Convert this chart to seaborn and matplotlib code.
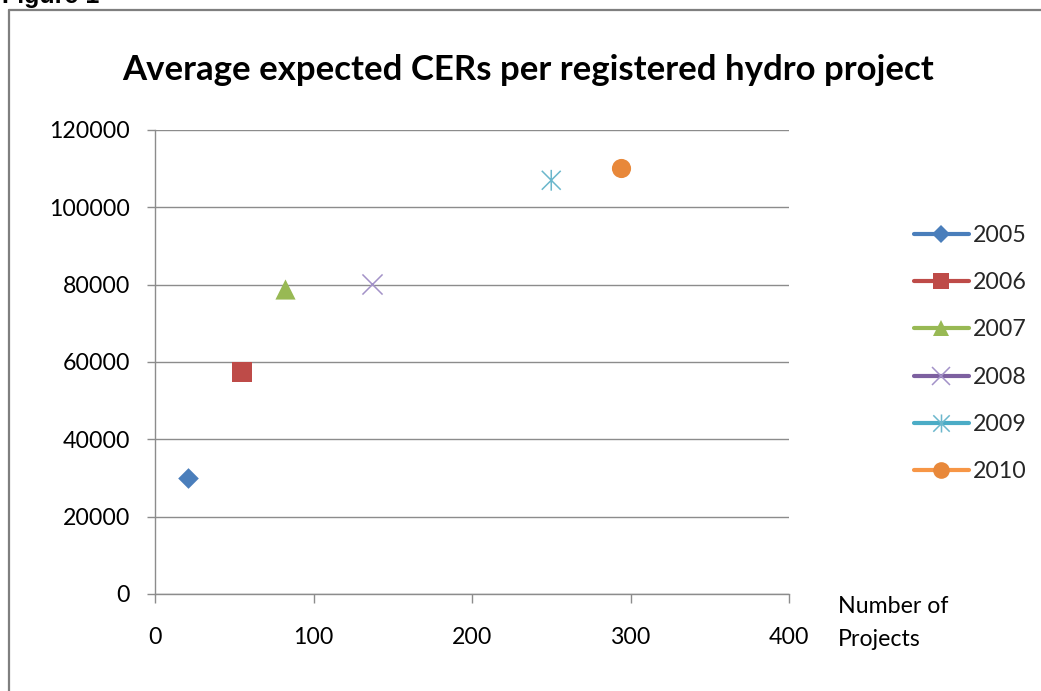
import matplotlib
matplotlib.use("Agg")
import matplotlib.pyplot as plt
from matplotlib.lines import Line2D
from matplotlib.path import Path
import seaborn as sns

# Series: one registration year per point
years = ["2005", "2006", "2007", "2008", "2009", "2010"]
num_projects = [21, 55, 82, 137, 250, 294]
avg_cers = [30000, 57500, 78800, 80300, 107000, 110300]

x_ticks = [0, 100, 200, 300, 400]
y_ticks = [0, 20000, 40000, 60000, 80000, 100000, 120000]

title = "Average expected CERs per registered hydro project"
x_label = "Number of\nProjects"

# Office-style palette
line_colors = ["#4A7EBB", "#BE4B48", "#98B954", "#7D60A0", "#4BACC6", "#F79646"]
mark_colors = ["#4A7EBB", "#BE4B48", "#98B954", "#A392C8", "#6BB7CC", "#E8883A"]

# Asterisk marker: two diagonals and a vertical stroke
asterisk = Path(
    [(-0.5, -0.5), (0.5, 0.5), (-0.5, 0.5), (0.5, -0.5), (0, -0.55), (0, 0.55)],
    [Path.MOVETO, Path.LINETO, Path.MOVETO, Path.LINETO, Path.MOVETO, Path.LINETO],
)
markers = ["D", "s", "^", "x", asterisk, "o"]
sizes_pt = [10.5, 14.0, 14.5, 14.5, 15.0, 13.8]
kind = ["fill", "fill", "fill", "line", "path", "fill"]

sns.set_theme(style="white")
plt.rcParams["font.family"] = ["Lato", "DejaVu Sans"]

fig = plt.figure(figsize=(10.41, 6.91), dpi=100)
W, H = 1041, 691
ax = fig.add_axes([155 / W, 1 - 594 / H, (789 - 155) / W, (594 - 130) / H])

for i, yr in enumerate(years):
    kw = dict(x=[num_projects[i]], y=[avg_cers[i]], marker=markers[i],
              s=sizes_pt[i] ** 2, ax=ax, legend=False, zorder=3)
    if kind[i] == "fill":
        kw.update(color=mark_colors[i], edgecolor=mark_colors[i], linewidth=0)
    elif kind[i] == "line":
        kw.update(color=mark_colors[i], linewidth=1.1)
    else:
        kw.update(color=mark_colors[i], edgecolor=mark_colors[i],
                  facecolor="none", linewidth=1.1)
    sns.scatterplot(**kw)

ax.set_xlim(x_ticks[0], x_ticks[-1])
ax.set_ylim(y_ticks[0], y_ticks[-1])
ax.set_xticks(x_ticks)
ax.set_yticks(y_ticks)
ax.set_xticklabels([str(v) for v in x_ticks])
ax.set_yticklabels([str(v) for v in y_ticks])
ax.set_xlabel("")
ax.set_ylabel("")

grid_c = "#8C8C8C"
ax.yaxis.grid(True, color=grid_c, linewidth=1.0)
ax.xaxis.grid(False)
ax.set_axisbelow(True)
for side in ["top", "right"]:
    ax.spines[side].set_visible(False)
for side in ["left", "bottom"]:
    ax.spines[side].set_color(grid_c)
    ax.spines[side].set_linewidth(1.0)

ax.tick_params(axis="x", direction="out", length=6.5, width=1.0, color=grid_c,
               pad=17, labelsize=16.7, labelcolor="#000000", bottom=True)
ax.tick_params(axis="y", direction="out", length=6, width=1.0, color=grid_c,
               pad=12, labelsize=16.7, labelcolor="#000000", left=True)

ax.text((838 - 155) / (789 - 155), (594 - 596) / (594 - 130), x_label,
        transform=ax.transAxes, ha="left", va="top", fontsize=16.7,
        color="#000000", linespacing=1.7)

fig.text(528 / W, 1 - 70 / H, title, ha="center", va="center",
         fontsize=25, fontweight="bold", color="#000000")

# Legend: thick series line with the series marker
leg_sizes = [9.0, 12.0, 11.5, 13.0, 13.0, 12.0]
handles = []
for i, yr in enumerate(years):
    is_fill = kind[i] == "fill"
    handles.append(Line2D([0], [0], color=line_colors[i], linewidth=3.0,
                          solid_capstyle="round", marker=markers[i],
                          markersize=leg_sizes[i],
                          markerfacecolor=mark_colors[i] if is_fill else "none",
                          markeredgecolor=mark_colors[i],
                          markeredgewidth=0 if is_fill else 1.1,
                          label=yr))
fig.legend(handles=handles, loc="upper left",
           bbox_to_anchor=(914 / W, 1 - 225 / H), frameon=False,
           fontsize=16.7, handlelength=2.35, handletextpad=0.2,
           labelspacing=1.13, borderaxespad=0, borderpad=0)

# Page frame and caption above the chart
frame_c = "#7F7F7F"
fig.add_artist(Line2D([8.5 / W, 8.5 / W], [0, 1 - 9.5 / H],
                      transform=fig.transFigure, color=frame_c, linewidth=1.6))
fig.add_artist(Line2D([8.5 / W, 1.0], [1 - 9.5 / H, 1 - 9.5 / H],
                      transform=fig.transFigure, color=frame_c, linewidth=1.6))
fig.text(2 / W, 1 - 2.5 / H, "Figure 1", ha="left", va="baseline",
         fontsize=18, fontweight="bold", family=["Liberation Sans", "DejaVu Sans"],
         color="#000000")

fig.savefig("out.png", dpi=100)
